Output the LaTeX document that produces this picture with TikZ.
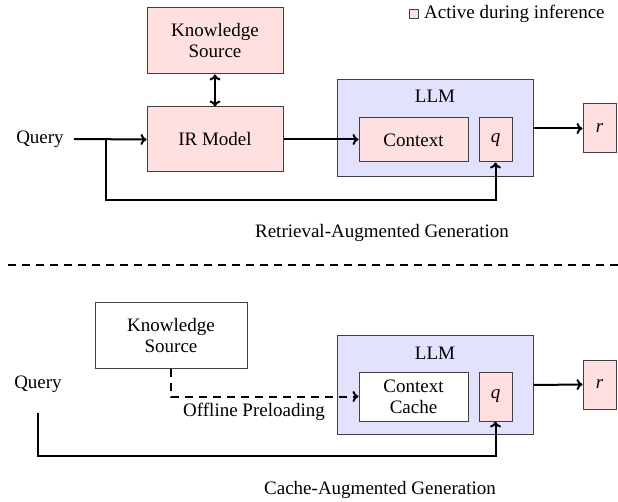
\documentclass[tikz,border=0pt]{standalone}
\usepackage{fontspec}
\setmainfont{Liberation Serif}
\usetikzlibrary{arrows.meta}
\definecolor{actpink}{HTML}{FFE0E0}
\definecolor{llmblue}{HTML}{E2E2FC}
\begin{document}
\begin{tikzpicture}[x=1pt,y=-1pt,
  font=\fontsize{19}{21}\selectfont,
  box/.style={draw=black!75, line width=1pt, rectangle, inner sep=0pt, align=center},
  act/.style={box, fill=actpink},
  llmbox/.style={box, fill=llmblue},
  arr/.style={line width=2pt, -{To[length=6pt,width=11pt]}},
  darr/.style={line width=2pt, {To[length=6pt,width=11pt]}-{To[length=6pt,width=11pt]}},
  dsh/.style={dash pattern=on 8pt off 6pt},
  plain/.style={inner sep=0pt}
]
\useasboundingbox (0,0) rectangle (618,502);

% legend
\node[act, minimum width=9pt, minimum height=9pt] (leg) at (414,14) {};
\node[plain, anchor=west] (legt) at (424,14) {Active during inference};

% ---------- RAG ----------
\node[act, minimum width=136pt, minimum height=66pt] (ks1) at (215,41) {Knowledge\\Source};
\node[act, minimum width=136pt, minimum height=65pt] (ir) at (215,139.5) {IR Model};
\node[llmbox, minimum width=196pt, minimum height=97pt] (llm1) at (435,128.5) {};
\node[plain] (llm1t) at (435,96) {LLM};
\node[act, minimum width=109pt, minimum height=44pt] (ctx1) at (413.5,140) {Context};
\node[act, minimum width=33pt, minimum height=44pt] (q1) at (495.5,140) {\textit{q}};
\node[act, minimum width=33pt, minimum height=49pt] (r1) at (599.5,128.5) {\textit{r}};
\node[plain] (query1) at (40,139) {Query};
\coordinate (qs1) at (74,139);
\coordinate (br1) at (106,139);
\coordinate (low1) at (106,200);

\draw[darr] (ks1.south) -- (ir.north);
\draw[arr] (qs1) -- (ir.west);
\draw[arr] (ir.east) -- (ir.east -| ctx1.west);
\draw[arr] (br1) -- (low1) -| (q1.south);
\draw[arr] (llm1.east) -- (r1.west);
\node[plain] (rag) at (382,233) {Retrieval-Augmented Generation};

% separator
\coordinate (sepl) at (8,265.5);
\coordinate (sepr) at (618,265.5);
\draw[line width=2pt, dsh] (sepl) -- (sepr);

% ---------- CAG ----------
\node[box, fill=white, minimum width=152pt, minimum height=65pt] (ks2) at (171,335.5) {Knowledge\\Source};
\node[llmbox, minimum width=196pt, minimum height=98pt] (llm2) at (435,385) {};
\node[plain] (llm2t) at (435,353) {LLM};
\node[box, fill=white, minimum width=109pt, minimum height=49pt] (cc) at (413.5,396.5) {Context\\Cache};
\node[act, minimum width=33pt, minimum height=49pt] (q2) at (495.5,396.5) {\textit{q}};
\node[act, minimum width=33pt, minimum height=49pt] (r2) at (599.5,384.5) {\textit{r}};
\node[plain] (query2) at (38,384) {Query};
\coordinate (qs2) at (38,413);
\coordinate (low2) at (38,456);

\draw[arr, dsh] (ks2.south) |- (cc.west);
\node[plain] (off) at (254,412) {Offline Preloading};
\draw[arr] (qs2) -- (low2) -| (q2.south);
\draw[arr] (llm2.east) -- (r2.west);
\node[plain] (cag) at (380,490) {Cache-Augmented Generation};
\end{tikzpicture}
\end{document}
